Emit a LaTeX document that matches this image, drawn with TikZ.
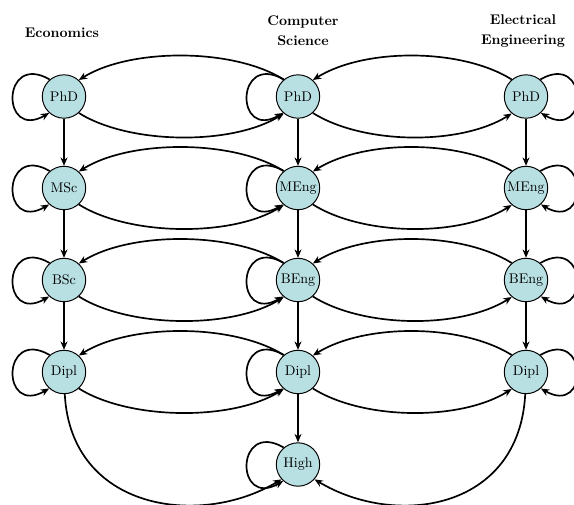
\documentclass[tikz,border=0pt]{standalone}
\usetikzlibrary{arrows.meta}
\definecolor{nodefill}{RGB}{184,223,226}
\begin{document}
\begin{tikzpicture}[x=0.7143pt,y=-0.7143pt,
  state/.style={circle,draw=black,line width=0.7pt,fill=nodefill,minimum size=31pt,inner sep=0.5pt},
  edge/.style={line width=1.2pt,-{Stealth[length=6pt,width=5pt]}},
  head/.style={font=\bfseries,align=center}]
\useasboundingbox (0,0) rectangle (574,504);
% headers
\node[head] (hE) at (62,33) {Economics};
\node[head] (hC) at (303,31) {Computer\\[2.3pt]Science};
\node[head] (hL) at (523,31) {Electrical\\[2.3pt]Engineering};
% nodes
\node[state] (eP) at (64,96.5) {PhD};
\node[state] (eM) at (64,188) {MSc};
\node[state] (eB) at (64,280) {BSc};
\node[state] (eD) at (64,372) {Dipl};
\node[state] (cP) at (298,96.5) {PhD};
\node[state] (cM) at (298,188) {MEng};
\node[state] (cB) at (298,280) {BEng};
\node[state] (cD) at (298,372) {Dipl};
\node[state] (cH) at (298,464.5) {High};
\node[state] (lP) at (526,96.5) {PhD};
\node[state] (lM) at (526,188) {MEng};
\node[state] (lB) at (526,280) {BEng};
\node[state] (lD) at (526,372) {Dipl};
% vertical
\draw[edge] (eP) -- (eM);
\draw[edge] (eM) -- (eB);
\draw[edge] (eB) -- (eD);
\draw[edge] (cP) -- (cM);
\draw[edge] (cM) -- (cB);
\draw[edge] (cB) -- (cD);
\draw[edge] (cD) -- (cH);
\draw[edge] (lP) -- (lM);
\draw[edge] (lM) -- (lB);
\draw[edge] (lB) -- (lD);
% loops
\foreach \n in {eP,eM,eB,eD,cP,cM,cB,cD,cH}{
  \draw[edge] (\n.130) .. controls +(150:40pt) and +(210:40pt) .. (\n.228);
}
\foreach \n in {lP,lM,lB,lD}{
  \draw[edge] (\n.50) .. controls +(30:40pt) and +(-30:40pt) .. (\n.-48);
}
% horizontal arcs
\foreach \a/\b in {eP/cP,eM/cM,eB/cB,eD/cD,cP/lP,cM/lM,cB/lB,cD/lD}{
  \draw[edge] (\b.130) .. controls +(148:43pt) and +(32:43pt) .. (\a.48);
  \draw[edge] (\a.-48) .. controls +(-32:43pt) and +(212:43pt) .. (\b.230);
}
% bottom arcs
\draw[edge] (eD.-88) .. controls +(-87:83pt) and +(211:68pt) .. (cH.222);
\draw[edge] (lD.-92) .. controls +(-93:83pt) and +(-31:68pt) .. (cH.-42);
\end{tikzpicture}
\end{document}
